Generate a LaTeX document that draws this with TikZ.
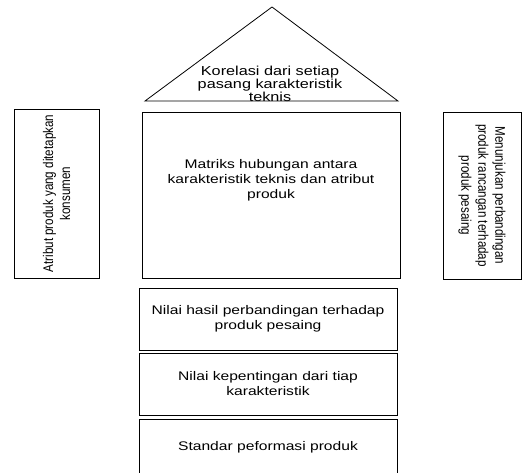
\documentclass[tikz,border=0pt]{standalone}
\usepackage{fontspec}
\setmainfont{Liberation Sans}
\newfontfamily\hfont[FakeStretch=1.25]{Liberation Sans}
\newfontfamily\vfont[FakeStretch=0.83]{Liberation Sans}
\begin{document}
\begin{tikzpicture}[x=1pt,y=-1pt,line width=0.8pt,
  box/.style={draw=black, rectangle, inner sep=0pt},
  htext/.style={font=\hfont\fontsize{12.5}{15}\selectfont, align=center},
  vtext/.style={font=\vfont\fontsize{14}{17}\selectfont, align=center}]
\useasboundingbox (0,0) rectangle (522,472);
% roof
\coordinate (apex) at (272,7);
\coordinate (bl) at (145,101);
\coordinate (br) at (398,101);
\draw (apex) -- (br) -- (bl) -- cycle;
\node[htext, font=\hfont\fontsize{13}{11.5}\selectfont] (roof) at (270,84)
  {Korelasi dari setiap\\pasang karakteristik\\teknis};
% main matrix
\node[box, minimum width=258pt, minimum height=166pt] (main) at (271,195) {};
\node[htext] (maintext) at (271,180)
  {Matriks hubungan antara\\karakteristik teknis dan atribut\\produk};
% side boxes
\node[box, vtext, rotate=90, minimum width=169pt, minimum height=85pt] (left) at (56.5,193.5)
  {Atribut produk yang ditetapkan\\konsumen};
\node[box, vtext, rotate=-90, minimum width=167pt, minimum height=78pt] (right) at (482,195.5)
  {Menunjukan perbandingan\\produk rancangan terhadap\\produk pesaing};
% bottom boxes
\node[box, htext, minimum width=258pt, minimum height=62pt] (b1) at (268,319)
  {Nilai hasil perbandingan terhadap\\produk pesaing};
\node[box, htext, minimum width=258pt, minimum height=62pt] (b2) at (268,384)
  {Nilai kepentingan dari tiap\\karakteristik};
\node[box, minimum width=258pt, minimum height=62pt] (b3) at (268,450) {};
\node[htext] (b3text) at (268,447) {Standar peformasi produk};
\end{tikzpicture}
\end{document}
